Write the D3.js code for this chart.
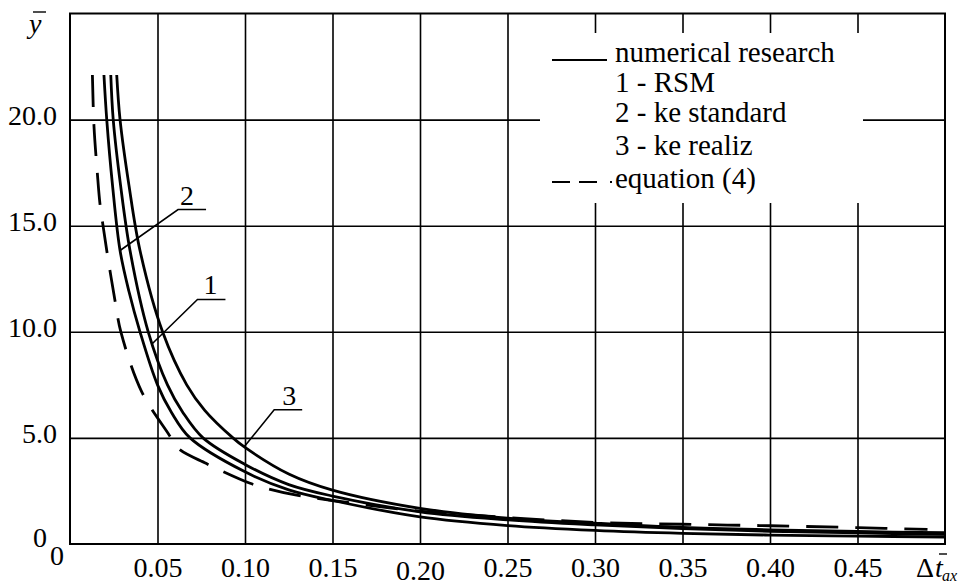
<!DOCTYPE html>
<html>
<head>
	<title> y vs dt </title>
	<script src="https://d3js.org/d3.v7.min.js"></script>
	<style>
		body { margin: 0; background: #fff; }
		text { font-family: "Liberation Serif", "Times New Roman", serif; fill: #000; }
	</style>
</head>
<body>
	<svg width="960" height="584"></svg>
	<script type="text/javascript">
		let xTicks = [0.05, 0.10, 0.15, 0.20, 0.25, 0.30, 0.35, 0.40, 0.45];
		let xTickLabels = ["0.05", "0.10", "0.15", "0.20", "0.25", "0.30", "0.35", "0.40", "0.45"];
		let yTicks = [5, 10, 15, 20];
		let yTickLabels = ["5.0", "10.0", "15.0", "20.0"];
		let legendLabels = ["numerical research", "1 - RSM", "2 - ke standard", "3 - ke realiz", "equation (4)"];

		// [dt, y]
		let rsm = [[0.0233, 22.1], [0.0247, 20.0], [0.0289, 16.9], [0.0343, 13.83], [0.0447, 10.0], [0.0557, 7.5],
			[0.0645, 6.2], [0.076, 5.0], [0.10, 3.75], [0.125, 2.8], [0.15, 2.26], [0.20, 1.52], [0.25, 1.14], [0.30, 0.9],
			[0.35, 0.72], [0.40, 0.6], [0.45, 0.52], [0.50, 0.46]];
		let keStandard = [[0.0194, 22.1], [0.0210, 20.0], [0.0243, 16.9], [0.0286, 13.83], [0.0337, 11.9], [0.040, 10.0],
			[0.050, 7.5], [0.058, 6.2], [0.0686, 5.0], [0.10, 3.4], [0.125, 2.55], [0.15, 2.05], [0.20, 1.28], [0.25, 0.87],
			[0.30, 0.64], [0.35, 0.5], [0.40, 0.42], [0.45, 0.37], [0.50, 0.33]];
		let keRealiz = [[0.0267, 22.1], [0.0286, 20.0], [0.0337, 16.9], [0.040, 13.83], [0.0529, 10.0], [0.0667, 7.5],
			[0.077, 6.3], [0.0931, 5.0], [0.10, 4.55], [0.125, 3.3], [0.15, 2.54], [0.20, 1.68], [0.25, 1.22], [0.30, 0.98],
			[0.35, 0.78], [0.40, 0.67], [0.45, 0.59], [0.50, 0.53]];
		let equation4 = [[0.0128, 22.1], [0.0137, 19.7], [0.0156, 17.5], [0.0171, 16.05], [0.0187, 15.1], [0.021, 13.83],
			[0.0257, 11.48], [0.0291, 9.98], [0.041, 7.17], [0.0562, 5.2], [0.0619, 4.5], [0.0777, 3.8],
			[0.0857, 3.48], [0.1029, 2.86], [0.1124, 2.62], [0.1295, 2.3], [0.15, 2.05], [0.20, 1.55],
			[0.25, 1.25], [0.30, 1.02], [0.35, 0.93], [0.40, 0.86], [0.45, 0.77], [0.49, 0.69]];

		let svg = d3.select("svg");
		let plotLeft = 70, plotRight = 945, plotTop = 13.5, plotBottom = 544;
		let x = d3.scaleLinear().domain([0, 0.5]).range([plotLeft, plotRight]);
		let y = d3.scaleLinear().domain([0, 25]).range([plotBottom, plotTop]);

		// grid + tick labels
		let xAxis = svg.append("g").attr("transform", "translate(0," + plotBottom + ")")
			.call(d3.axisBottom(x).tickValues(xTicks).tickSize(-(plotBottom - plotTop)).tickFormat((d, i) => xTickLabels[i]));
		let yAxis = svg.append("g").attr("transform", "translate(" + plotLeft + ",0)")
			.call(d3.axisLeft(y).tickValues(yTicks).tickSize(-(plotRight - plotLeft)).tickFormat((d, i) => yTickLabels[i]));
		svg.selectAll(".domain").remove();
		svg.selectAll(".tick line").attr("stroke", "#000").attr("stroke-width", 1.6);
		// the 0.20 label sits a little lower in the original
		xAxis.selectAll(".tick text")
			.attr("y", d => d == 0.20 ? 36 : 33).attr("dy", null)
			.attr("font-size", 28).attr("font-family", null);
		yAxis.selectAll(".tick text")
			.attr("x", -13).attr("dy", null).attr("y", 4.5)
			.attr("font-size", 28).attr("font-family", null);

		svg.append("rect")
			.attr("x", plotLeft).attr("y", plotTop)
			.attr("width", plotRight - plotLeft).attr("height", plotBottom - plotTop)
			.attr("fill", "none").attr("stroke", "#000").attr("stroke-width", 2);

		// origin zeros and axis titles
		svg.append("text").attr("x", 33).attr("y", 547).attr("font-size", 28).text("0");
		svg.append("text").attr("x", 50).attr("y", 565).attr("font-size", 28).text("0");
		svg.append("text").attr("x", 29).attr("y", 33).attr("font-size", 28).attr("font-style", "italic").text("y");
		svg.append("line").attr("x1", 33).attr("x2", 46).attr("y1", 12).attr("y2", 12).attr("stroke", "#000").attr("stroke-width", 1.4);
		svg.append("text").attr("x", 916).attr("y", 577).attr("font-size", 28).text("Δ");
		svg.append("text").attr("x", 935).attr("y", 577).attr("font-size", 28).attr("font-style", "italic").text("t");
		svg.append("line").attr("x1", 939).attr("x2", 947).attr("y1", 554).attr("y2", 554).attr("stroke", "#000").attr("stroke-width", 1.4);
		svg.append("text").attr("x", 942).attr("y", 581).attr("font-size", 16).attr("font-style", "italic").text("ax");

		// legend
		let lg = svg.append("g");
		lg.append("rect").attr("x", 540).attr("y", 33).attr("width", 323).attr("height", 170).attr("fill", "#fff");
		let legendY = [62, 92, 122, 155, 188];
		lg.selectAll("text").data(legendLabels).join("text")
			.attr("x", 615).attr("y", (d, i) => legendY[i])
			.attr("font-size", 29).text(d => d);
		lg.append("line").attr("x1", 552).attr("x2", 607).attr("y1", 60).attr("y2", 60)
			.attr("stroke", "#000").attr("stroke-width", 1.8);
		lg.append("line").attr("x1", 552).attr("x2", 612).attr("y1", 182).attr("y2", 182)
			.attr("stroke", "#000").attr("stroke-width", 1.8).attr("stroke-dasharray", "18,9,18,13,2");

		// curves
		let line = d3.line().x(d => x(d[0])).y(d => y(d[1])).curve(d3.curveCatmullRom.alpha(0.5));
		let series = [
			{ data: rsm, dash: null },
			{ data: keStandard, dash: null },
			{ data: keRealiz, dash: null },
			{ data: equation4, dash: "32,17" }
		];
		svg.selectAll("path.curve").data(series).join("path")
			.attr("class", "curve")
			.attr("fill", "none")
			.attr("stroke", "#000")
			.attr("stroke-width", 2.8)
			.attr("stroke-dasharray", d => d.dash)
			.attr("d", d => line(d.data));

		// leader labels, end point found on the curve at a given y
		function xAtY(data, yv)
		{
			for (let i = 0; i < data.length - 1; i++)
			{
				let a = data[i], b = data[i + 1];
				if ((a[1] - yv) * (b[1] - yv) <= 0)
				{
					let t = (yv - a[1]) / (b[1] - a[1]);
					return a[0] + t * (b[0] - a[0]);
				}
			}
			return data[0][0];
		}
		let leaders = [
			{ label: "2", data: keStandard, atY: 13.83, dx: 58, dy: -41, tx: 2 },
			{ label: "1", data: rsm, atY: 9.45, dx: 45, dy: -44, tx: 6 },
			{ label: "3", data: keRealiz, atY: 4.58, dx: 30, dy: -37, tx: 8 }
		];
		leaders.forEach(l => {
			let ex = x(xAtY(l.data, l.atY)), ey = y(l.atY);
			let kx = ex + l.dx, ky = ey + l.dy;
			svg.append("polyline")
				.attr("points", [[ex, ey], [kx, ky], [kx + 28, ky]].map(p => p.join(",")).join(" "))
				.attr("fill", "none").attr("stroke", "#000").attr("stroke-width", 1.6);
			svg.append("text").attr("x", kx + l.tx).attr("y", ky - 5).attr("font-size", 28).text(l.label);
		});
	</script>
</body>
</html>
